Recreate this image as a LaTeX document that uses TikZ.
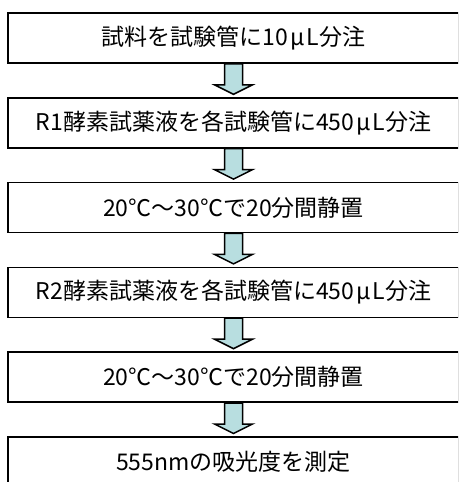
\documentclass[tikz,border=0pt]{standalone}
\usepackage{fontspec}
\newfontfamily\jpfont{Noto Sans CJK JP}
\usetikzlibrary{positioning}
\definecolor{arrowblue}{RGB}{184,222,224}
\newcommand{\wmu}{\makebox[0.8em]{μ}}

\begin{document}
\begin{tikzpicture}[x=1pt, y=1pt, node distance=33.2pt]
        \tikzstyle{stepbox} = [rectangle, draw=black, line width=1.6pt, minimum width=451pt, minimum height=50pt, inner sep=0pt, font=\jpfont\fontsize{23}{26}\selectfont]
        \tikzstyle{downarrow} = [draw=black, line width=1.5pt, fill=arrowblue, line join=miter]

        \clip (0,0) rectangle (458,-482);

        \node [stepbox] (sample) at (233.5,-38) {試料を試験管に10\wmu L分注};
        \node [stepbox, below=of sample] (rone) {R1酵素試薬液を各試験管に450\wmu L分注};
        \node [stepbox, below=of rone] (waitone) {20℃～30℃で20分間静置};
        \node [stepbox, below=of waitone] (rtwo) {R2酵素試薬液を各試験管に450\wmu L分注};
        \node [stepbox, below=of rtwo] (waittwo) {20℃～30℃で20分間静置};
        \node [stepbox, below=of waittwo] (measure) {555nmの吸光度を測定};

        % block arrows between the steps
        \foreach \s in {sample, rone, waitone, rtwo, waittwo}
            \draw [downarrow] ([xshift=-9pt]\s.south) -- ++(0,-21) -- ++(-10,0) -- ++(19,-9.5) -- ++(19,9.5) -- ++(-10,0) -- ++(0,21) -- cycle;

    \end{tikzpicture}
\end{document}
